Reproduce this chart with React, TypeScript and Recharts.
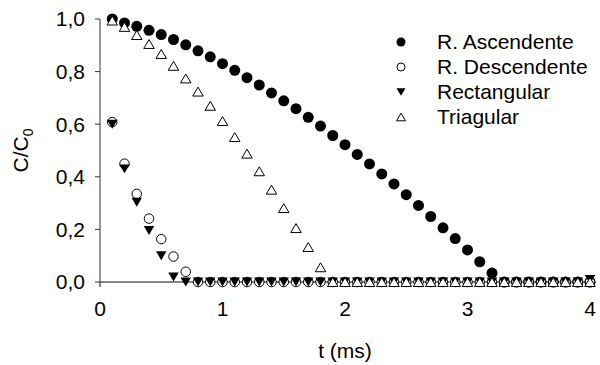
import { Legend, Scatter, ScatterChart, XAxis, YAxis } from "recharts";

// tiempo (ms)
const times = [
  0.1, 0.2, 0.3, 0.4, 0.5, 0.6, 0.7, 0.8, 0.9, 1.0,
  1.1, 1.2, 1.3, 1.4, 1.5, 1.6, 1.7, 1.8, 1.9, 2.0,
  2.1, 2.2, 2.3, 2.4, 2.5, 2.6, 2.7, 2.8, 2.9, 3.0,
  3.1, 3.2, 3.3, 3.4, 3.5, 3.6, 3.7, 3.8, 3.9, 4.0,
];

const ascendente = [
  1.0, 0.985, 0.972, 0.957, 0.941, 0.922, 0.902, 0.879, 0.856, 0.83,
  0.805, 0.777, 0.749, 0.719, 0.689, 0.659, 0.626, 0.593, 0.557, 0.522,
  0.485, 0.449, 0.411, 0.373, 0.332, 0.291, 0.249, 0.206, 0.165, 0.122,
  0.077, 0.034, 0, 0, 0, 0, 0, 0, 0, 0,
];

const descendente = [
  0.608, 0.45, 0.335, 0.241, 0.163, 0.097, 0.039, 0, 0, 0,
  0, 0, 0, 0, 0, 0, 0, 0, 0, 0,
  0, 0, 0, 0, 0, 0, 0, 0, 0, 0,
  0, 0, 0, 0, 0, 0, 0, 0, 0, 0,
];

const rectangular = [
  0.6, 0.43, 0.303, 0.196, 0.1, 0.019, 0, 0, 0, 0,
  0, 0, 0, 0, 0, 0, 0, 0, 0, 0,
  0, 0, 0, 0, 0, 0, 0, 0, 0, 0,
  0, 0, 0, 0, 0, 0, 0, 0, 0, 0.01,
];

const triangular = [
  0.994, 0.97, 0.939, 0.905, 0.867, 0.822, 0.774, 0.724, 0.67, 0.612,
  0.551, 0.488, 0.421, 0.351, 0.281, 0.205, 0.133, 0.056, 0, 0,
  0, 0, 0, 0, 0, 0, 0, 0, 0, 0,
  0, 0, 0, 0, 0, 0, 0, 0, 0, 0,
];

const xTicks = [0, 1, 2, 3, 4];
const yTicks = [0, 0.2, 0.4, 0.6, 0.8, 1.0];

const FONT = "'Liberation Sans', Arial, sans-serif";

const toPoints = (values: number[]) => times.map((t, i) => ({ t, v: values[i] }));

type Kind = "filled" | "open" | "down" | "up";

function Marker({ kind, cx, cy, size }: { kind: Kind; cx: number; cy: number; size: number }) {
  const r = size / 2;
  if (kind === "filled") return <circle cx={cx} cy={cy} r={r} fill="#000" />;
  if (kind === "open")
    return <circle cx={cx} cy={cy} r={r - 0.5} fill="#fff" stroke="#000" strokeWidth={1} />;
  const h = size * 0.85;
  if (kind === "down")
    return (
      <path
        d={`M${cx - r},${cy - h / 2}L${cx + r},${cy - h / 2}L${cx},${cy + h / 2}Z`}
        fill="#000"
      />
    );
  return (
    <path
      d={`M${cx - r},${cy + h / 2}L${cx + r},${cy + h / 2}L${cx},${cy - h / 2}Z`}
      fill="#fff"
      stroke="#000"
      strokeWidth={1}
    />
  );
}

const series: { name: string; kind: Kind; values: number[] }[] = [
  { name: "R. Ascendente", kind: "filled", values: ascendente },
  { name: "R. Descendente", kind: "open", values: descendente },
  { name: "Rectangular", kind: "down", values: rectangular },
  { name: "Triagular", kind: "up", values: triangular },
];

function LegendBox() {
  return (
    <div style={{ fontFamily: FONT, fontSize: 21, color: "#000" }}>
      {series.map((s) => (
        <div key={s.name} style={{ display: "flex", alignItems: "center", height: 25 }}>
          <svg width={16} height={16} style={{ marginRight: 28 }}>
            <Marker kind={s.kind} cx={8} cy={8} size={9} />
          </svg>
          <span>{s.name}</span>
        </div>
      ))}
    </div>
  );
}

export default function App() {
  return (
    <div style={{ position: "absolute", left: 0, top: 0, width: 600, height: 365, background: "#fff" }}>
      <ScatterChart width={600} height={365} margin={{ top: 19, right: 10, bottom: 0, left: 0 }}>
        <XAxis
          type="number"
          dataKey="t"
          domain={[0, 4]}
          ticks={xTicks}
          height={83}
          tickSize={5}
          tickMargin={14}
          stroke="#111"
          tick={{ fill: "#000", fontSize: 21, fontFamily: FONT }}
          tickFormatter={(v: number) => String(v)}
          label={{
            content: ({ viewBox }: any) => (
              <text
                x={viewBox.x + viewBox.width / 2}
                y={viewBox.y + 76}
                textAnchor="middle"
                fontSize={21}
                fontFamily={FONT}
                fill="#000"
              >
                t (ms)
              </text>
            ),
          }}
        />
        <YAxis
          type="number"
          dataKey="v"
          domain={[0, 1]}
          ticks={yTicks}
          width={100}
          tickSize={5}
          tickMargin={10}
          stroke="#333"
          tick={{ fill: "#000", fontSize: 21, fontFamily: FONT }}
          tickFormatter={(v: number) => v.toFixed(1).replace(".", ",")}
          label={{
            content: ({ viewBox }: any) => {
              const cx = 28;
              const cy = viewBox.y + viewBox.height / 2;
              return (
                <text
                  x={cx}
                  y={cy}
                  transform={`rotate(-90 ${cx} ${cy})`}
                  textAnchor="middle"
                  fontSize={21}
                  fontFamily={FONT}
                  fill="#000"
                >
                  C/C
                  <tspan fontSize={14} dy={5}>
                    0
                  </tspan>
                </text>
              );
            },
          }}
        />
        <Legend
          layout="vertical"
          align="center"
          verticalAlign="middle"
          wrapperStyle={{ left: 393, top: 29, width: 205 }}
          content={() => <LegendBox />}
        />
        {series.map((s) => (
          <Scatter
            key={s.name}
            name={s.name}
            data={toPoints(s.values)}
            isAnimationActive={false}
            shape={(p: any) => <Marker kind={s.kind} cx={p.cx} cy={p.cy} size={s.kind === "filled" ? 11 : 10.5} />}
          />
        ))}
      </ScatterChart>
    </div>
  );
}
